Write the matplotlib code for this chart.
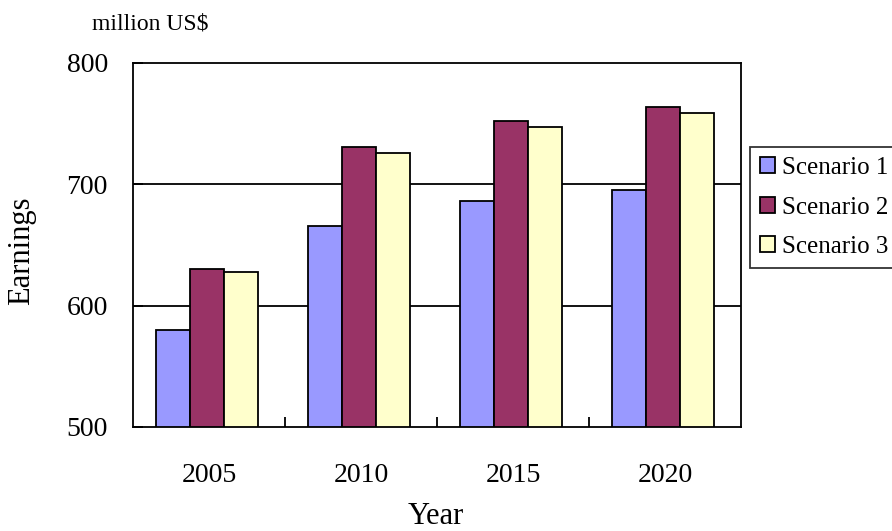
import matplotlib
matplotlib.use("Agg")
import matplotlib.pyplot as plt
import numpy as np

years = ["2005", "2010", "2015", "2020"]
scenario1 = [580, 666, 686, 695]
scenario2 = [630, 731, 752, 764]
scenario3 = [628, 726, 747, 759]
labels = ["Scenario 1", "Scenario 2", "Scenario 3"]
colors = ["#9999ff", "#993366", "#ffffcc"]

plt.rcParams["font.family"] = ["Liberation Serif", "DejaVu Serif"]

fig = plt.figure(figsize=(8.92, 5.31), dpi=100)
ax = fig.add_axes([133/892, 1-427/531, (741-133)/892, (427-63)/531])

x = np.arange(len(years))
w = 0.224
for k, (vals, lab, col) in enumerate(zip([scenario1, scenario2, scenario3], labels, colors)):
    ax.bar(x + (k-1)*w - 0.012, [v-500 for v in vals], w, bottom=500, color=col,
           edgecolor="black", lw=1.3, label=lab, zorder=3)

ax.set_xlim(-0.5, 3.5); ax.set_ylim(500, 800)
ax.set_yticks([500, 600, 700, 800])
for yv in [600, 700]:
    ax.axhline(yv, color="black", lw=1.3, zorder=1)
ax.set_xticks(x); ax.set_xticklabels(years, fontsize=20)
ax.set_xticks([0.5, 1.5, 2.5], minor=True)
ax.tick_params(axis="x", which="major", length=0, pad=26)
ax.tick_params(axis="x", which="minor", direction="in", length=7, width=1.3)
ax.tick_params(axis="y", direction="in", length=7, width=1.3, labelsize=20, pad=18)
for s in ax.spines.values():
    s.set_linewidth(1.3)

fig.text(150/892, 1-24/531, "million US$", fontsize=17, ha="center", va="center")
fig.text(22/892, 1-251/531, "Earnings", fontsize=22, rotation=90, ha="center", va="center")
fig.text(436/892, 1-517/531, "Year", fontsize=22, ha="center", va="center")

leg = fig.legend(loc="upper left", bbox_to_anchor=(750/892, 1-147/531), fontsize=18,
                 frameon=True, fancybox=False, edgecolor="black", handlelength=0.6,
                 handleheight=0.6, handletextpad=0.3, borderpad=0.4, labelspacing=0.7,
                 borderaxespad=0)
leg.get_frame().set_linewidth(1.3)

fig.savefig("out.png", dpi=100)
